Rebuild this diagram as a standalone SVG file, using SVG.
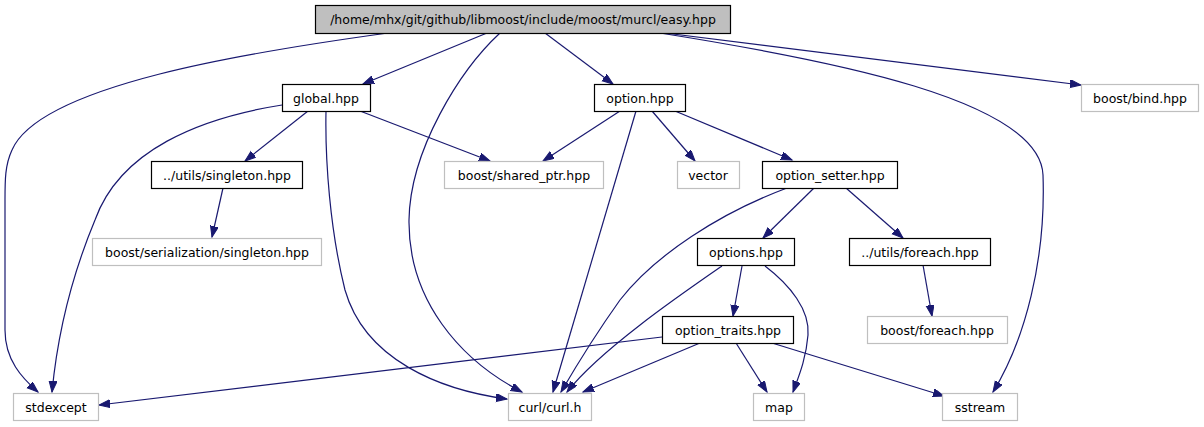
<svg xmlns="http://www.w3.org/2000/svg" width="1204" height="427" viewBox="0 0 1204 427">
<style>
text{font-family:"DejaVu Sans","Liberation Sans",sans-serif;font-size:12.5px;fill:#000;text-anchor:middle}
.n rect{fill:#fff;stroke:#000;stroke-width:1.2}
.x rect{fill:#fff;stroke:#bfbfbf;stroke-width:1.2}
.r rect{fill:#bfbfbf;stroke:#000;stroke-width:1.2}
.e path{fill:none;stroke:#191970;stroke-width:1.2;marker-end:url(#ah)}
</style>
<defs>
<marker id="ah" markerUnits="userSpaceOnUse" markerWidth="13" markerHeight="10" refX="11" refY="4" orient="auto">
<path d="M0,0 L11,4 L0,8 z" fill="#191970" stroke="#191970" stroke-width="1"/>
</marker>
</defs>
<rect width="1204" height="427" fill="#fff"/>
<g class="e" id="edges">
<path d="M388,33 C250,52 40,85 12,150 C5,165 5,180 5,200 L5,330 C5,360 22,378 38,392"/>
<path d="M487,33 L363,84"/>
<path d="M500,33 C460,70 410,150 409,220 C408,300 460,360 522,392"/>
<path d="M545,33 L613,84"/>
<path d="M660,33 C830,60 1040,100 1043,175 C1046,260 1025,340 993,392"/>
<path d="M665,33 L1081,85"/>
<path d="M282,105 C200,118 120,150 95,220 C70,280 57,340 52,392"/>
<path d="M308,111 L245,161"/>
<path d="M326,111 C325,160 330,230 345,290 C365,360 440,390 507,399"/>
<path d="M360,111 L490,161"/>
<path d="M620,111 L543,161"/>
<path d="M636,111 L553,392"/>
<path d="M652,111 L695,161"/>
<path d="M675,111 L792,160"/>
<path d="M223,188 L212,237"/>
<path d="M787,188 C720,213 655,255 620,300 C595,335 575,368 561,392"/>
<path d="M814,188 L763,238"/>
<path d="M846,188 L903,238"/>
<path d="M722,266 C680,295 600,350 567,392"/>
<path d="M742,266 L733,316"/>
<path d="M765,266 C790,285 810,310 808,335 C806,360 798,378 793,392"/>
<path d="M923,265 L932,316"/>
<path d="M662,337 L99,405"/>
<path d="M700,343 L583,392"/>
<path d="M736,343 L767,392"/>
<path d="M772,343 L944,396"/>
</g>
<g id="root" class="r"><rect x="315.5" y="5.5" width="415" height="28"/><text x="523" y="24">/home/mhx/git/github/libmoost/include/moost/murcl/easy.hpp</text></g>
<g id="global" class="n"><rect x="282.5" y="84.5" width="88" height="27"/><text x="326" y="102.5">global.hpp</text></g>
<g id="option" class="n"><rect x="594.5" y="84.5" width="91" height="27"/><text x="640" y="102.5">option.hpp</text></g>
<g id="bind" class="x"><rect x="1081.5" y="84.5" width="117" height="27"/><text x="1140" y="102.5">boost/bind.hpp</text></g>
<g id="singleton" class="n"><rect x="151.5" y="161.5" width="151" height="27"/><text x="227" y="179.5">../utils/singleton.hpp</text></g>
<g id="shared_ptr" class="x"><rect x="444.5" y="161.5" width="159" height="27"/><text x="524" y="179.5">boost/shared_ptr.hpp</text></g>
<g id="vector" class="x"><rect x="677.5" y="161.5" width="62" height="27"/><text x="708" y="179.5">vector</text></g>
<g id="option_setter" class="n"><rect x="762.5" y="161.5" width="135" height="27"/><text x="830" y="179.5">option_setter.hpp</text></g>
<g id="ser_singleton" class="x"><rect x="92.5" y="238.5" width="229" height="27"/><text x="207" y="256.5">boost/serialization/singleton.hpp</text></g>
<g id="options" class="n"><rect x="697.5" y="238.5" width="97" height="27"/><text x="746" y="256.5">options.hpp</text></g>
<g id="foreach" class="n"><rect x="849.5" y="238.5" width="141" height="27"/><text x="920" y="256.5">../utils/foreach.hpp</text></g>
<g id="option_traits" class="n"><rect x="662.5" y="316.5" width="131" height="27"/><text x="728" y="334.5">option_traits.hpp</text></g>
<g id="boost_foreach" class="x"><rect x="867.5" y="316.5" width="140" height="27"/><text x="937" y="334.5">boost/foreach.hpp</text></g>
<g id="stdexcept" class="x"><rect x="13.5" y="393.5" width="85" height="27"/><text x="56" y="411.5">stdexcept</text></g>
<g id="curl" class="x"><rect x="508.5" y="393.5" width="83" height="27"/><text x="550" y="411.5">curl/curl.h</text></g>
<g id="map" class="x"><rect x="753.5" y="393.5" width="51" height="27"/><text x="779" y="411.5">map</text></g>
<g id="sstream" class="x"><rect x="942.5" y="393.5" width="75" height="27"/><text x="980" y="411.5">sstream</text></g>
</svg>
